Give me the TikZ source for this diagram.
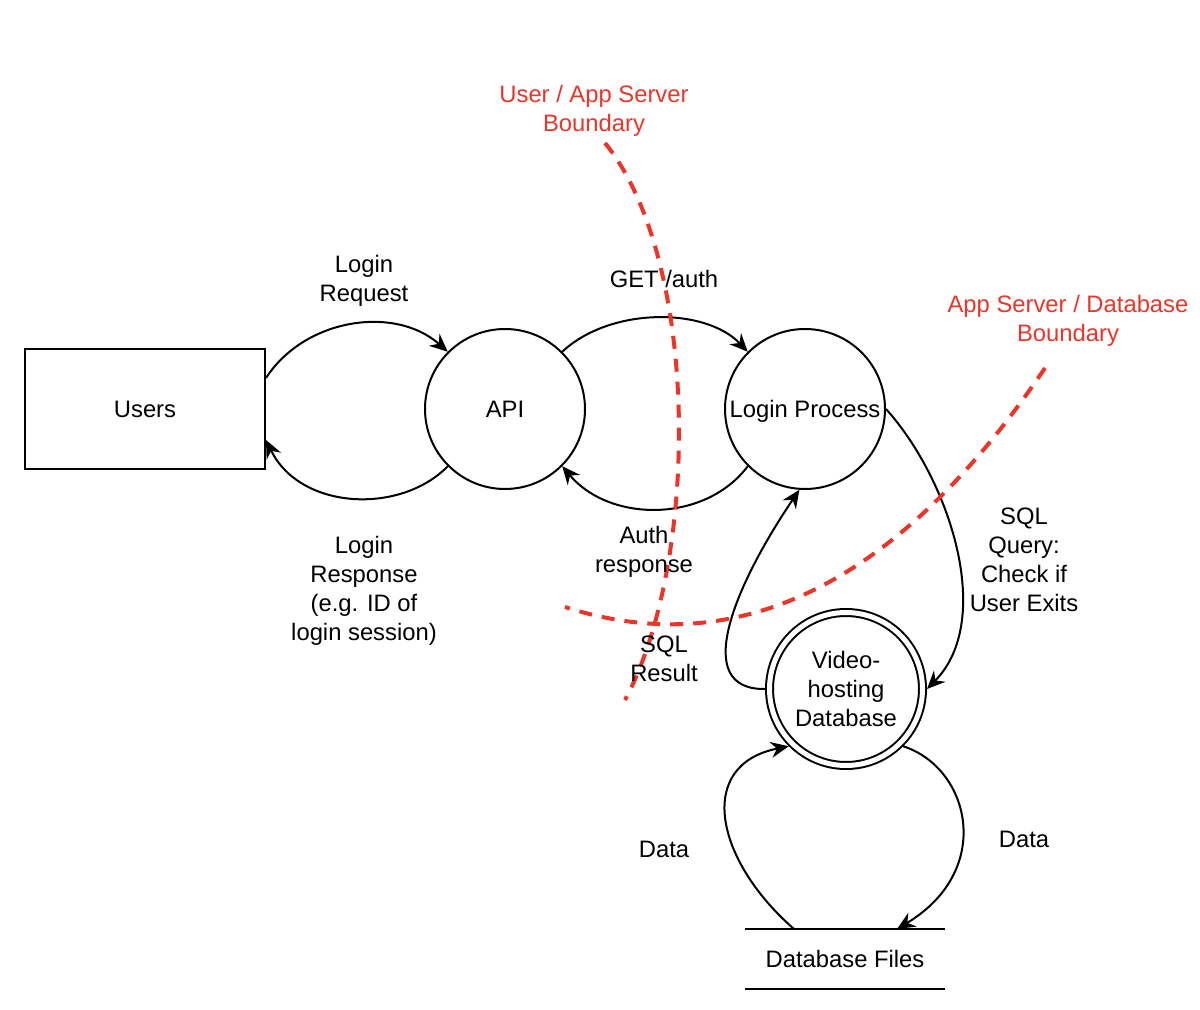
\documentclass[tikz,border=0pt]{standalone}
\usepackage{fontspec}
\setmainfont{Liberation Sans}
\usetikzlibrary{arrows.meta}
\definecolor{boundaryred}{RGB}{236,52,40}
\begin{document}
\begin{tikzpicture}[x=0.5pt,y=-0.5pt,
  every node/.style={font=\fontsize{11.9}{14.5}\selectfont,align=center},
  proc/.style={draw,circle,line width=1pt,minimum size=80pt,inner sep=0pt},
  store/.style={draw,circle,line width=1pt,double,double distance=2.5pt,minimum size=76.5pt,inner sep=0pt,outer sep=2.25pt},
  flow/.style={line width=1pt,-{Stealth[length=9pt,width=8pt,inset=3pt]}},
  boundary/.style={draw=boundaryred,line width=2pt,dash pattern=on 6.5pt off 5pt},
  redlabel/.style={text=boundaryred}]
\useasboundingbox (0,0) rectangle (1200,1010);

\node[draw,line width=1pt,minimum width=120pt,minimum height=60pt,inner sep=0pt] (users) at (145,409) {Users};
\node[proc] (api) at (505,409) {API};
\node[proc,text depth=0pt] (login) at (805,409) {Login Process};
\node[store] (db) at (846,689) {Video-\\hosting\\Database};
\node[minimum width=100pt,minimum height=30pt,inner sep=0pt,outer sep=0pt] (files) at (845,959) {Database Files};
\draw[line width=1pt] (files.north west) -- (files.north east);
\draw[line width=1pt] (files.south west) -- (files.south east);

\draw[flow] ([yshift=15.5pt]users.east) .. controls (305,318) and (395,305) .. (api.135);
\draw[flow] (api.225) .. controls (400,515) and (300,510) .. ([yshift=-15.5pt]users.east);
\draw[flow] (api.45) .. controls (610,307) and (705,307) .. (login.135);
\draw[flow] (login.225) .. controls (705,523) and (610,523) .. (api.315);
\draw[flow] (login.east) .. controls (950,480) and (995,620) .. (db.east);
\draw[flow] (db.west) .. controls (690,690) and (735,585) .. (login.266);
\draw[flow] ([xshift=-25.5pt]files.north) .. controls (715,860) and (695,765) .. (db.225);
\draw[flow] (db.315) .. controls (970,768) and (995,870) .. ([xshift=26pt]files.north);

\draw[boundary] (605,143) .. controls (700,260) and (700,560) .. (625,700);
\draw[boundary] (1045,368) .. controls (905,575) and (745,665) .. (565,607);

\node[redlabel] (userapp) at (594,110.5) {User / App Server\\Boundary};
\node[redlabel] (appdb) at (1068,320.5) {App Server / Database\\Boundary};

\node (loginreq) at (364,280.5) {Login\\Request};
\node (getauth) at (664,279) {GET /auth};
\node (loginresp) at (364,590.5) {Login\\Response\\(e.g. ID of\\login session)};
\node (authresp) at (644,551.5) {Auth\\response};
\node (sqlres) at (664,659) {SQL\\Result};
\node (sqlquery) at (1024,559.5) {SQL\\Query:\\Check if\\User Exits};
\node (datain) at (664,849) {Data};
\node (dataout) at (1024,839) {Data};
\end{tikzpicture}
\end{document}
